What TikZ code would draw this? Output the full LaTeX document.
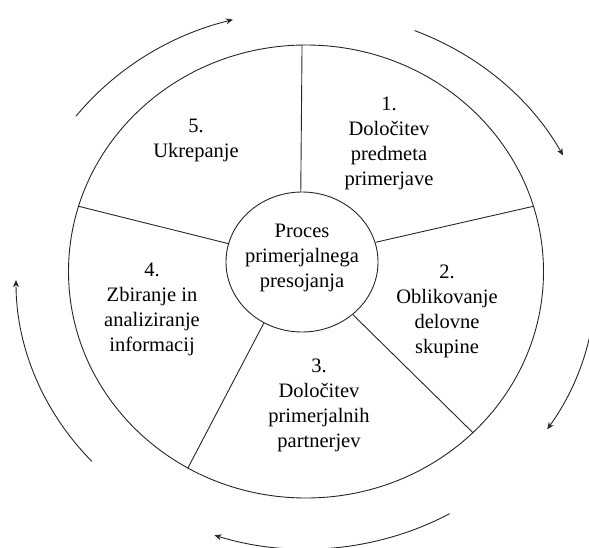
\documentclass[tikz,border=0pt]{standalone}
\usepackage{fontspec}
\setmainfont{Liberation Serif}
\usetikzlibrary{shapes.geometric,arrows.meta,calc}

\tikzset{
  line/.style={draw=black!85, line width=0.9pt},
  ring/.style={ellipse, line, inner sep=0pt},
  label/.style={align=center, inner sep=0pt,
    font=\fontsize{20.5}{25}\selectfont},
  cyc/.style={draw=black!85, line width=0.9pt,
    -{Stealth[length=7pt,width=6pt]}},
  cycarc/.style={x radius=290pt, y radius=269pt}
}

\begin{document}
\begin{tikzpicture}[x=1pt,y=-1pt]
  \useasboundingbox (0,0) rectangle (589,547);
  \clip (0,0) rectangle (589,547);

  % outer ring and central hub
  \node[ring, minimum width=475pt, minimum height=453pt] (outer) at (306,271.5) {};
  \node[ring, minimum width=152pt, minimum height=140pt] (hub) at (302,262) {};

  % spokes dividing the five steps
  \draw[line] (hub.91.6) -- (outer.91.5);
  \draw[line] (hub.15.1) -- (outer.16.4);
  \draw[line] (hub.-46.1) -- (outer.-44.6);
  \draw[line] (hub.238.2) -- (outer.239);
  \draw[line] (hub.166.1) -- (outer.164.1);

  % texts
  \node[label] (hubtext) at (302,258) {Proces\\primerjalnega\\presojanja};
  \node[label] (s1) at (389,143) {1.\\Določitev\\predmeta\\primerjave};
  \node[label] (s2) at (447,311) {2.\\Oblikovanje\\delovne\\skupine};
  \node[label] (s3) at (319,405) {3.\\Določitev\\primerjalnih\\partnerjev};
  \node[label] (s4) at (152,309) {4.\\Zbiranje in\\analiziranje\\informacij};
  \node[label] (s5) at (196,140) {5.\\Ukrepanje};

  % clockwise arrows around the cycle
  \coordinate (c) at (306,280);
  \draw[cyc] ($(c)+(142.5:290pt and 269pt)$) arc[cycarc, start angle=142.5, end angle=104.6];
  \draw[cyc] ($(c)+(68:290pt and 269pt)$) arc[cycarc, start angle=68, end angle=27.6];
  \draw[cyc] ($(c)+(7.8:290pt and 269pt)$) arc[cycarc, start angle=7.8, end angle=-33.7];
  \draw[cyc] ($(c)+(-60.3:290pt and 269pt)$) arc[cycarc, start angle=-60.3, end angle=-108.4];
  \draw[cyc] ($(c)+(-137.6:290pt and 269pt)$) arc[cycarc, start angle=-137.6, end angle=-180];
\end{tikzpicture}
\end{document}
